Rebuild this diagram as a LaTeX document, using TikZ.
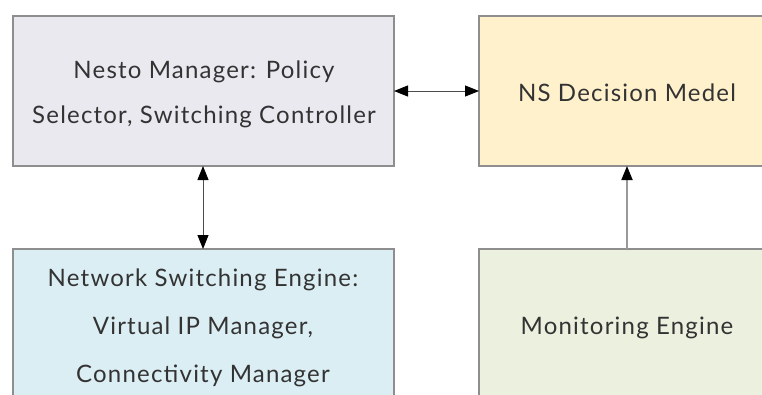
\documentclass[tikz,border=0pt]{standalone}
\usepackage{fontspec}
\setmainfont{Lato}[LetterSpace=5]
\usetikzlibrary{arrows.meta}
\definecolor{boxA}{HTML}{EBE9F0}
\definecolor{boxB}{HTML}{FFF1CC}
\definecolor{boxC}{HTML}{DBEEF4}
\definecolor{boxD}{HTML}{EBF0DF}
\definecolor{edge}{HTML}{8E8E8E}
\definecolor{txt}{HTML}{333333}
\tikzset{
  lbl/.style={text=txt, font=\fontsize{24}{45}\selectfont, align=center},
  lblwide/.style={text=txt, font=\fontsize{24}{48}\selectfont, align=center},
  conn/.style={line width=0.9pt, draw=black!70, {Triangle[length=14pt,width=11pt,color=black]}-{Triangle[length=14pt,width=11pt,color=black]}},
  connup/.style={line width=1.8pt, draw=black!40, -{Triangle[length=14pt,width=11pt,color=black]}}
}
\begin{document}
\begin{tikzpicture}[x=1pt,y=-1pt]
\useasboundingbox (0,0) rectangle (762,394);
\clip (0,0) rectangle (762,394);
\draw[draw=edge, line width=1.4pt, fill=boxA] (13,16) rectangle (394,166);
\draw[draw=edge, line width=1.4pt, fill=boxB] (479,16) rectangle (775,166);
\draw[draw=edge, line width=1.4pt, fill=boxC] (13,249) rectangle (394,410);
\draw[draw=edge, line width=1.4pt, fill=boxD] (479,249) rectangle (775,410);
\node[lbl] (t1) at (204,94) {Nesto Manager: Policy\\Selector, Switching Controller};
\node[lbl] (t2) at (627,93) {NS Decision Medel};
\node[lblwide] (t3) at (203,328) {Network Switching Engine:\\Virtual IP Manager,\\Connectivity Manager};
\node[lbl] (t4) at (627,328) {Monitoring Engine};
\coordinate (aR) at (394,91);
\coordinate (bL) at (479,91);
\coordinate (aB) at (203,166);
\coordinate (cT) at (203,249);
\coordinate (bB) at (627,166);
\coordinate (dT) at (627,249);
\draw[conn] (aR) -- (bL);
\draw[conn] (aB) -- (cT);
\draw[connup] (dT) -- (bB);
\end{tikzpicture}
\end{document}
